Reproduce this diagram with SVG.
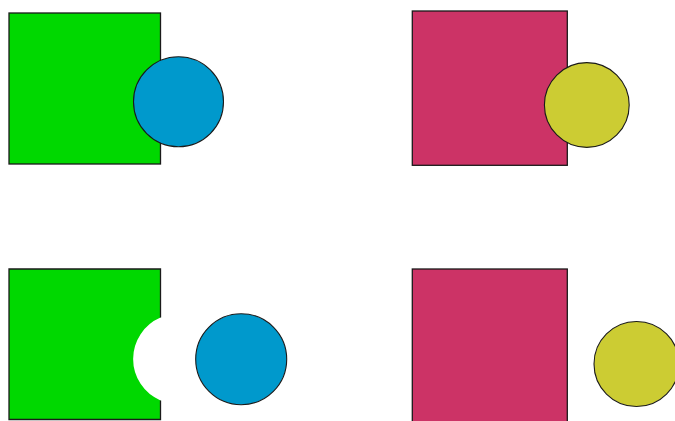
<svg xmlns="http://www.w3.org/2000/svg" width="675" height="421" viewBox="0 0 675 421">
<style>
.sq{stroke:#1a1a1a;stroke-width:1.3}
.ci{stroke:#1a1a1a;stroke-width:1.1}
.green{fill:#00d800}
.blue{fill:#0099cc}
.red{fill:#cc3366}
.yellow{fill:#cccc33}
</style>
<rect width="675" height="421" fill="#ffffff"/>
<g id="tl-square"><rect class="sq green" x="9" y="13" width="151.5" height="151"/></g>
<g id="tl-circle"><circle class="ci blue" cx="178.5" cy="101.8" r="45"/></g>
<g id="tr-square"><rect class="sq red" x="412.3" y="11" width="155" height="154.3"/></g>
<g id="tr-circle"><circle class="ci yellow" cx="586.8" cy="105" r="42.4"/></g>
<g id="bl-square">
<path class="green" fill-rule="evenodd" d="M9 269 H160.5 V317.6 A45 45 0 0 0 160.5 400.4 V419.5 H9 Z"/>
<path fill="none" stroke="#1a1a1a" stroke-width="1.3" d="M160.5 317.6 V269 H9 V419.5 H160.5 V400.4"/>
</g>
<g id="bl-circle"><circle class="ci blue" cx="241.2" cy="359.2" r="45.5"/></g>
<g id="br-square"><rect class="sq red" x="412.3" y="269" width="155" height="160"/></g>
<g id="br-circle"><circle class="ci yellow" cx="636.5" cy="364" r="42.5"/></g>
<g id="connectors"/>
</svg>
